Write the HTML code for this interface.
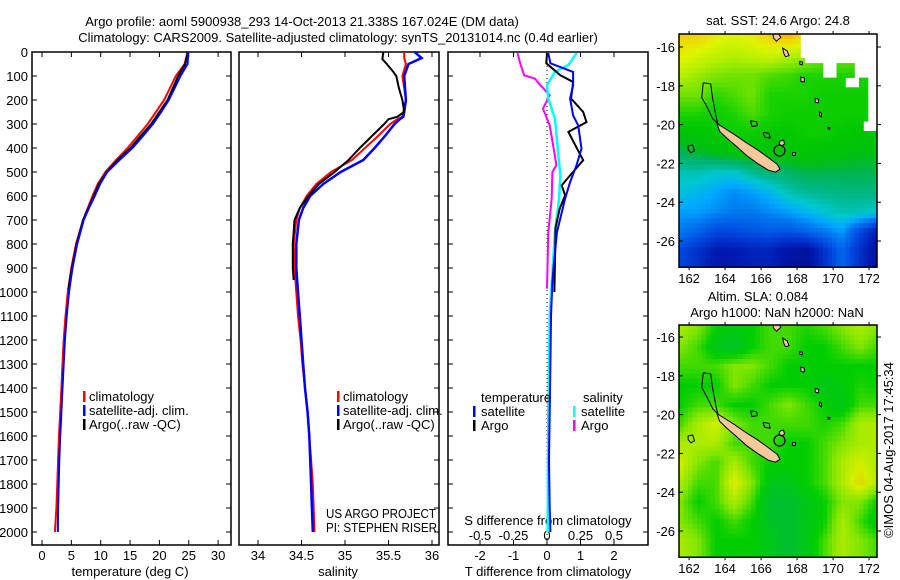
<!DOCTYPE html>
<html><head><meta charset="utf-8"><style>
html,body{margin:0;padding:0;background:#fff}
svg{display:block;font-family:"Liberation Sans",sans-serif;font-size:13px}
</style></head><body>
<svg id="s" width="900" height="580" viewBox="0 0 900 580"></svg>
<script>
// ---------- data ----------
const tDepth=[0,50,100,150,200,250,300,350,400,450,500,550,600,650,700,800,900,1000,1100,1200,1300,1400,1500,1600,1700,1800,1900,2000];
const tClim=[24.8,24.3,22.8,21.8,20.8,19.4,18.0,16.3,14.6,12.6,10.8,9.5,8.6,7.8,7.0,5.8,5.0,4.4,4.0,3.7,3.5,3.3,3.1,2.9,2.75,2.6,2.45,2.2];
const tSat=[24.9,24.8,23.6,22.6,21.6,20.3,18.9,17.2,15.4,13.2,11.1,9.9,9.0,8.0,7.1,6.0,5.2,4.6,4.2,3.9,3.7,3.5,3.3,3.1,2.95,2.85,2.75,2.7];
const tArgoDepth=[0,50,100,150,200,250,300,350,400,450,500,550,600,650,700,800,900,990];
const tArgo=[24.8,24.4,23.2,22.3,21.4,20.0,18.6,16.8,15.1,12.9,11.0,9.7,8.8,7.9,7.0,5.9,5.1,4.5];
const sDepth=[0,25,50,100,150,200,250,270,280,300,350,400,450,500,550,600,650,700,800,900,1000,1100,1200,1300,1400,1500,1600,1700,1800,1900,2000];
const sClim=[35.68,35.68,35.70,35.66,35.68,35.70,35.67,35.66,35.60,35.52,35.38,35.23,35.08,34.84,34.67,34.56,34.48,34.44,34.41,34.42,34.44,34.46,34.49,34.51,34.54,34.57,34.59,34.61,34.63,34.64,34.65];
const sSat=[35.80,35.88,35.73,35.68,35.69,35.70,35.68,35.67,35.63,35.57,35.46,35.34,35.21,34.95,34.75,34.60,34.52,34.47,34.44,34.44,34.46,34.48,34.50,34.52,34.54,34.57,34.59,34.60,34.61,34.62,34.63];
const sArgoDepth=[0,30,50,80,100,150,200,250,270,280,300,350,400,450,500,550,600,650,700,800,900,950];
const sArgo=[35.44,35.43,35.48,35.55,35.59,35.62,35.66,35.68,35.60,35.50,35.45,35.31,35.17,35.04,34.88,34.70,34.58,34.48,34.42,34.40,34.40,34.41];
const dTSatDepth=[5,47,83,139,194,264,306,403,472,542,611,750,889,958,1100,1300,1500,1700,1900,2000];
const dTSat=[0.04,0.1,0.78,0.78,0.69,0.78,0.93,1.03,0.88,0.69,0.54,0.3,0.2,0.16,0.12,0.1,0.08,0.06,0.08,0.1];
const dTArgoDepth=[5,47,97,125,194,250,292,333,403,451,514,556,597,653,736,778,1000];
const dTArgo=[0,-0.02,0.4,0.78,0.72,1.08,1.18,0.64,0.9,1.08,0.69,0.44,0.54,0.38,0.25,0.25,0.22];
const dSSatDepth=[5,54,83,139,194,278,403,514,611,750,1097,1500,2000];
const dSSat=[0.22,0.16,0.06,0,0.01,0.06,0.08,0.1,0.09,0.06,0.02,0.01,0.005];
const dSArgoDepth=[5,47,97,111,138,180,236,278,306,403,472,500,611,750,986];
const dSArgo=[-0.22,-0.2,-0.17,-0.09,-0.05,0.02,-0.03,0,0.02,0.05,0.07,0.04,0.035,0.01,0];
const depthTicks=[0,100,200,300,400,500,600,700,800,900,1000,1100,1200,1300,1400,1500,1600,1700,1800,1900,2000];
const tTicks=[0,5,10,15,20,25,30];
const sTicks=[34,34.5,35,35.5,36];
const dTTicks=[-2,-1,0,1,2];
const dSTicks=[-0.5,-0.25,0,0.25,0.5];
const dSTickLabels=["-0.5","-0.25","0","0.25","0.5"];
const mapLatTicks=[-16,-18,-20,-22,-24,-26];
const mapLonTicks=[162,164,166,168,170,172];
const sstGrid=[
[8,8,7.6,7.4,7.6,8,8.2,7.8,7.5,7,7,7],
[7.6,7.3,7.1,7,7.1,7.2,7,6.8,6.5,6.5,6.5,6.5],
[7,6.8,6.6,6.5,6.5,6.3,6.2,6,6,6,6,6],
[6.5,6.5,6.1,6.3,6.5,6,6,6,5.8,5.8,5.8,5.8],
[6,6,5.8,6,6.3,6,5.8,5.8,5.8,5.8,5.8,5.8],
[5.3,5.4,5.6,5.8,5.8,5.6,5.6,5.8,5.8,5.6,5.5,5.5],
[4.7,4.9,5.1,5.3,5.4,5.3,5.4,5.4,5.3,5.2,5.1,5.1],
[4,4,3.8,3.8,4.2,4.5,4.6,4.8,4.8,4.8,4.8,4.8],
[3.7,3.5,3.3,3,3.2,3.5,4,4.2,4.3,4.4,4.4,4.4],
[3.2,3.2,3,2.8,2.8,3,3.2,3.5,3.8,4,4,3.8],
[2.8,2.5,2,2,2.2,2.3,2.2,2.5,2.8,3.2,2,1],
[2,1.5,1,1,1.2,1.2,0.8,0.6,1.5,2.5,1.5,0.6]];
const slaGrid=[
[3.5,3,2,1.8,2,2.5,2.5,2.2,2.5,3,3.5,3],
[3,2.5,1.5,1.2,2,2.5,2.5,2,2,2.5,3,2.5],
[2.5,2.5,2.5,3,3,2.5,2,2,2,2,2,2],
[2,2,2,3,2.5,2,2,2,1.5,1.8,2.2,2],
[2,2.5,2.5,2,2,2.5,3,2.5,2,1.5,2.5,2.5],
[2.5,3.5,4,3,2.5,2.5,2.5,2.5,2.2,2.5,3.5,3.5],
[3.5,3.5,3.5,2.5,2.5,2.5,2,2,2.5,3,3.5,3.5],
[4,3,2.5,3.5,2.5,2,2,2,2.5,3.5,4,3.5],
[3.5,2.5,2.5,4.2,3,1.5,1.5,2,2.5,3.5,4.5,3.5],
[3,2,2.5,3.5,2.5,1,1,1.5,2,3,3,2],
[3,2.5,2,2.5,2,1.2,1,1.5,2,3.5,2.5,1.5],
[3.5,3,2,2,2,1.5,1,1.5,2.5,3.5,3,2.5]];

// ---------- helpers ----------
const S=document.getElementById('s'),NS='http://www.w3.org/2000/svg';
function mk(t,a,p){const e=document.createElementNS(NS,t);for(const k in a)e.setAttribute(k,a[k]);(p||S).appendChild(e);return e;}
function txt(x,y,s,anchor,p){const e=mk('text',{x:x,y:y,'text-anchor':anchor||'start',fill:'#000'},p);e.textContent=s;return e;}
const yD=d=>52+d*0.24;
const xT=t=>42+t*5.87;
const xS=s=>258+(s-34)*87;
const xDT=v=>547+v*33.5;
const xDS=v=>547+v*134;
const B=545;

let e=txt(302,26,'Argo profile: aoml 5900938_293 14-Oct-2013 21.338S 167.024E (DM data)','middle');

e=txt(338,42,'Climatology: CARS2009. Satellite-adjusted climatology: synTS_20131014.nc (0.4d earlier)','middle');


function panel(x0,x1,name){const g=mk('g',{});
 mk('rect',{x:x0,y:52,width:x1-x0,height:B-52,fill:'#fff',stroke:'#000','stroke-width':1.5},g);return g;}
function line(g,xs,ys,fx,color,w,name){const pts=xs.map((v,i)=>fx(v).toFixed(1)+','+yD(ys[i]).toFixed(1)).join(' ');
 const p=mk('polyline',{points:pts,fill:'none',stroke:color,'stroke-width':w},g);return p;}

// panel 1
const g1=panel(32,231,'temperature-panel');
depthTicks.forEach(d=>{mk('line',{x1:32,x2:37,y1:yD(d),y2:yD(d),stroke:'#000'},g1);mk('line',{x1:226,x2:231,y1:yD(d),y2:yD(d),stroke:'#000'},g1);
 const t=txt(28,yD(d)+5,String(d),'end',g1);});
tTicks.forEach(v=>{mk('line',{x1:xT(v),x2:xT(v),y1:B,y2:B-5,stroke:'#000'},g1);mk('line',{x1:xT(v),x2:xT(v),y1:52,y2:57,stroke:'#000'},g1);
 const t=txt(xT(v),560,String(v),'middle',g1);});
e=txt(130,576,'temperature (deg C)','middle',g1);
line(g1,tClim,tDepth,xT,'#f00',2,'temp-climatology-line');
line(g1,tArgo,tArgoDepth,xT,'#000',2,'temp-argo-line');
line(g1,tSat,tDepth,xT,'#00f',2,'temp-satellite-line');
function legend(g,x,items){items.forEach((it,i)=>{const y=398+i*14;mk('rect',{x:x,y:y-7,width:2.5,height:11,fill:it[1]},g);
 const t=txt(x+6,y+3,it[0],'start',g);});}
legend(g1,83,[['climatology','#f00'],['satellite-adj. clim.','#00f'],['Argo(..raw -QC)','#000']]);

// panel 2
const g2=panel(239,439,'salinity-panel');
depthTicks.forEach(d=>{mk('line',{x1:434,x2:439,y1:yD(d),y2:yD(d),stroke:'#000'},g2);});
sTicks.forEach(v=>{mk('line',{x1:xS(v),x2:xS(v),y1:B,y2:B-5,stroke:'#000'},g2);mk('line',{x1:xS(v),x2:xS(v),y1:52,y2:57,stroke:'#000'},g2);
 const t=txt(xS(v),560,String(v),'middle',g2);});
e=txt(338,576,'salinity','middle',g2);
line(g2,sClim,sDepth,xS,'#f00',2,'sal-climatology-line');
line(g2,sSat,sDepth,xS,'#00f',2.5,'sal-satellite-line');
line(g2,sArgo,sArgoDepth,xS,'#000',2,'sal-argo-line');
legend(g2,337,[['climatology','#f00'],['satellite-adj. clim.','#00f'],['Argo(..raw -QC)','#000']]);
e=txt(326,518,'US ARGO PROJECT','start',g2);e.setAttribute('textLength','110');e.setAttribute('lengthAdjust','spacingAndGlyphs');

e=txt(326,532,'PI: STEPHEN RISER','start',g2);e.setAttribute('textLength','111');e.setAttribute('lengthAdjust','spacingAndGlyphs');


// panel 3
const g3=panel(448,648,'difference-panel');
depthTicks.forEach(d=>{mk('line',{x1:448,x2:453,y1:yD(d),y2:yD(d),stroke:'#000'},g3);mk('line',{x1:643,x2:648,y1:yD(d),y2:yD(d),stroke:'#000'},g3);});
mk('line',{x1:547,x2:547,y1:54,y2:B-4,stroke:'#000','stroke-dasharray':'1,3'},g3);
dTTicks.forEach(v=>{mk('line',{x1:xDT(v),x2:xDT(v),y1:B,y2:B-5,stroke:'#000'},g3);mk('line',{x1:xDT(v),x2:xDT(v),y1:52,y2:57,stroke:'#000'},g3);
 const t=txt(xDT(v),560,String(v),'middle',g3);});
dSTicks.forEach((v,i)=>{const t=txt(xDS(v),540,dSTickLabels[i],'middle',g3);});
e=txt(548,525,'S difference from climatology','middle',g3);
e=txt(548,576,'T difference from climatology','middle',g3);
line(g3,dSArgo,dSArgoDepth,xDS,'#f0f',2,'s-diff-argo-line');
line(g3,dSSat,dSSatDepth,xDS,'#0ff',2.5,'s-diff-satellite-line');
line(g3,dTArgo,dTArgoDepth,xDT,'#000',2,'t-diff-argo-line');
line(g3,dTSat,dTSatDepth,xDT,'#00f',2,'t-diff-satellite-line');
e=txt(481,402,'temperature','start',g3);
e=txt(583,402,'salinity','start',g3);
[['satellite','#00f',473,416],['Argo','#000',473,430],['satellite','#0ff',573,416],['Argo','#f0f',573,430]].forEach(it=>{
 mk('rect',{x:it[2],y:it[3]-10,width:2.5,height:11,fill:it[1]},g3);
 const t=txt(it[2]+8,it[3],it[0],'start',g3);});

// ---------- maps ----------
function lerpCol(stops,v){for(let i=0;i<stops.length-1;i++){const a=stops[i],b=stops[i+1];if(v<=b[0]){const f=Math.max(0,(v-a[0])/(b[0]-a[0]));
 const ca=a[1],cb=b[1];return 'rgb('+[0,1,2].map(k=>Math.round(ca[k]+(cb[k]-ca[k])*f)).join(',')+')';}}return 'rgb('+stops[stops.length-1][1].join(',')+')';}
const sstStops=[[0,[0,10,120]],[1,[0,24,176]],[2,[0,72,224]],[2.8,[0,120,240]],[3.3,[0,168,255]],[3.8,[0,200,208]],[4.3,[0,184,140]],[4.8,[0,180,80]],[5.1,[0,192,16]],[5.6,[0,200,0]],[6,[24,210,0]],[6.5,[110,226,0]],[7,[180,240,0]],[7.5,[224,244,0]],[8,[240,212,0]],[8.3,[240,176,0]]];
const slaStops=[[0,[0,176,128]],[1,[0,192,48]],[2,[0,206,0]],[3,[130,230,0]],[4,[210,240,0]],[5,[240,192,0]]];
function sample(grid,lon,lat){let fi=(-15.5-lat),fj=(lon-161.5);fi=Math.max(0,Math.min(11,fi));fj=Math.max(0,Math.min(11,fj));
 const i0=Math.floor(fi),j0=Math.floor(fj),i1=Math.min(11,i0+1),j1=Math.min(11,j0+1),a=fi-i0,b=fj-j0;
 return grid[i0][j0]*(1-a)*(1-b)+grid[i0][j1]*(1-a)*b+grid[i1][j0]*a*(1-b)+grid[i1][j1]*a*b;}
const sstMask=[[168.2,173,-15.2,-16.5],[168.5,173,-16.5,-16.9],[169.5,170.2,-16.9,-17.5],[171.3,173,-16.9,-17.5],[170.8,171.5,-17.5,-18.1],[172,173,-17.5,-19.8],[171.8,173,-19.8,-20.3]];
function map(top,grid,stops,mask,name,latTop){
 const g=mk('g',{});
 const mx=lon=>679+(lon-161.44)*18, my=lat=>top+(latTop-lat)*19.4;
 const cp='clip'+top;const c=mk('clipPath',{id:cp},g);mk('rect',{x:679,y:top,width:198,height:my(-27.35)-top},c);
 const gg=mk('g',{'clip-path':'url(#'+cp+')'},g);
 for(let lat=latTop;lat>-27.6;lat-=0.25){for(let lon=161.44;lon<172.6;lon+=0.25){
  const clat=lat-0.125,clon=lon+0.125;
  if(mask.some(m=>clon>=m[0]&&clon<m[1]&&clat<=m[2]&&clat>m[3]))continue;
  const r=mk('rect',{x:mx(lon).toFixed(1),y:my(lat).toFixed(1),width:4.8,height:5.2,fill:lerpCol(stops,sample(grid,clon,clat))},gg);
  
 }}
 const P=pts=>pts.map(p=>mx(p[0]).toFixed(1)+','+my(p[1]).toFixed(1)).join(' ');
 const land=[
  [[163.55,-19.95],[163.9,-20.15],[164.5,-20.5],[165.2,-20.95],[165.8,-21.3],[166.4,-21.7],[166.9,-22.05],[167.05,-22.3],[166.8,-22.45],[166.4,-22.35],[165.8,-22.0],[165.2,-21.6],[164.6,-21.1],[164.1,-20.7],[163.7,-20.35]],
  [[167.05,-20.85],[167.25,-20.8],[167.3,-21.0],[167.15,-21.1],[167.0,-21.0]],
  [[167.75,-21.45],[167.92,-21.45],[167.88,-21.6],[167.74,-21.57]],
  [[166.65,-15.3],[166.95,-15.3],[167.1,-15.5],[166.85,-15.7],[166.7,-15.55]],
  [[167.2,-16.05],[167.45,-16.2],[167.55,-16.45],[167.35,-16.5],[167.25,-16.3]],
  [[168.2,-17.55],[168.4,-17.6],[168.4,-17.8],[168.22,-17.78]],
  [[169.0,-18.65],[169.2,-18.7],[169.18,-18.88],[169.02,-18.85]],
  [[169.25,-19.35],[169.35,-19.42],[169.34,-19.6],[169.24,-19.52]],
  [[169.72,-20.14],[169.83,-20.16],[169.8,-20.24],[169.72,-20.22]],
  [[168.15,-16.75],[168.3,-16.78],[168.28,-16.92],[168.15,-16.88]]];
 land.forEach(l=>{const p=mk('polygon',{points:P(l),fill:'#f8c89c',stroke:'#000','stroke-width':1},gg);});
 const outlines=[
  [[162.79,-17.84],[163.2,-17.9],[163.3,-18.6],[163.5,-19.6],[163.6,-19.95],[163.32,-19.7],[163.0,-19.1],[162.7,-18.6],[162.79,-17.84]],
  [[161.94,-21.1],[162.2,-21.05],[162.3,-21.35],[162.1,-21.45],[161.95,-21.3],[161.94,-21.1]],
  [[165.4,-19.8],[165.75,-19.85],[165.8,-20.05],[165.5,-20.1],[165.4,-19.8]],
  [[166.1,-20.4],[166.45,-20.45],[166.5,-20.7],[166.2,-20.65],[166.1,-20.4]]];
 outlines.forEach(l=>{const p=mk('polyline',{points:P(l),fill:'none',stroke:'#000','stroke-width':1},gg);});
 const ci=mk('circle',{cx:mx(167.024),cy:my(-21.338),r:5.5,fill:'none',stroke:'#000','stroke-width':1.2},gg);
 
 const bot=my(-27.35);
 mk('rect',{x:679,y:top,width:198,height:bot-top,fill:'none',stroke:'#000','stroke-width':1.5},g);
 mapLatTicks.forEach(v=>{mk('line',{x1:679,x2:683,y1:my(v),y2:my(v),stroke:'#000'},g);mk('line',{x1:877,x2:881,y1:my(v),y2:my(v),stroke:'#000'},g);
  const t=txt(675,my(v)+5,String(v),'end',g);});
 mapLonTicks.forEach(v=>{mk('line',{x1:mx(v),x2:mx(v),y1:top,y2:top-3,stroke:'#000'},g);mk('line',{x1:mx(v),x2:mx(v),y1:bot,y2:bot+3,stroke:'#000'},g);
  const t=txt(mx(v),bot+16,String(v),'middle',g);});
}
map(34,sstGrid,sstStops,sstMask,'sst-map',-15.33);
map(325,slaGrid,slaStops,[],'sla-map',-15.38);
e=txt(778,25,'sat. SST: 24.6 Argo: 24.8','middle');
e=txt(758,301,'Altim. SLA: 0.084','middle');
e=txt(777,317,'Argo h1000: NaN h2000: NaN','middle');
e=txt(0,0,'©IMOS 04-Aug-2017 17:45:34','middle');e.setAttribute('transform','translate(893,450) rotate(-90)');

</script>
</body></html>
